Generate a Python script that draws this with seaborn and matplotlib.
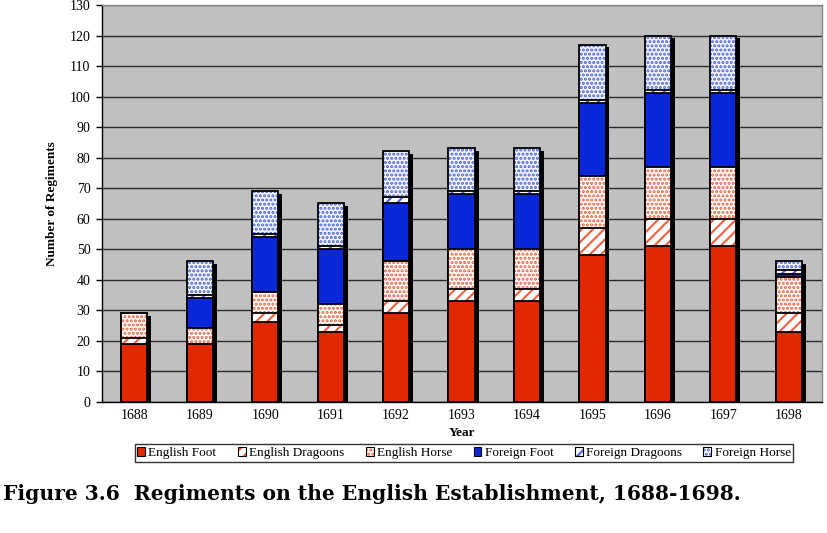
import numpy as np
import pandas as pd
import matplotlib
matplotlib.use("Agg")
import matplotlib.pyplot as plt
from matplotlib.patches import Patch
from matplotlib.legend_handler import HandlerTuple
import seaborn as sns

# ---------------- data ----------------
years = ["1688", "1689", "1690", "1691", "1692", "1693", "1694", "1695", "1696", "1697", "1698"]
english_foot = [19, 19, 26, 23, 29, 33, 33, 48, 51, 51, 23]
english_dragoons = [2, 0, 3, 2, 4, 4, 4, 9, 9, 9, 6]
english_horse = [8, 5, 7, 7, 13, 13, 13, 17, 17, 17, 12]
foreign_foot = [0, 10, 18, 18, 19, 18, 18, 24, 24, 24, 1]
foreign_dragoons = [0, 1, 1, 1, 2, 1, 1, 1, 1, 1, 1]
foreign_horse = [0, 11, 14, 14, 15, 14, 14, 18, 18, 18, 3]
series_names = ["English Foot", "English Dragoons", "English Horse",
                "Foreign Foot", "Foreign Dragoons", "Foreign Horse"]
y_ticks = list(range(0, 131, 10))

RED = "#E22800"
BLUE = "#0A28D8"
PINK = "#F0603F"
LBLUE = "#4A62E0"
# (face, pattern colour, hatch)
styles = [
    (RED, RED, None),
    ("white", PINK, "///"),
    ("white", PINK, "...."),
    (BLUE, BLUE, None),
    ("white", LBLUE, "///"),
    ("#F4F6FF", LBLUE, "...."),
]

sns.set_theme(style="white")
plt.rcParams["font.family"] = ["Liberation Serif", "DejaVu Serif"]
plt.rcParams["hatch.linewidth"] = 1.5
plt.rcParams["text.color"] = "black"
plt.rcParams["xtick.color"] = "black"
plt.rcParams["ytick.color"] = "black"
plt.rcParams["axes.labelcolor"] = "black"

df = pd.DataFrame({
    "Year": years,
    series_names[0]: english_foot,
    series_names[1]: english_dragoons,
    series_names[2]: english_horse,
    series_names[3]: foreign_foot,
    series_names[4]: foreign_dragoons,
    series_names[5]: foreign_horse,
})
cum = df[series_names].cumsum(axis=1)
total = cum[series_names[-1]].to_numpy()

L, R, B, T = 101.5, 821.5, 401.7, 5.0
fig = plt.figure(figsize=(8.27, 5.33), dpi=100)
ax = fig.add_axes([L / 827, 1 - B / 533, (R - L) / 827, (B - T) / 533])
ax.set_facecolor("#C0C0C0")

W = 0.40
# shadow bars
xpos = np.arange(len(years))
ax.bar(xpos + 0.06, np.maximum(total - 0.8, 0), width=W, color="black",
       linewidth=0, zorder=1.5)

# stacked layers, drawn from the top layer down (cumulative heights)
for k in range(len(series_names) - 1, -1, -1):
    face, pcol, hatch = styles[k]
    vals = cum[series_names[k]]
    sns.barplot(x=df["Year"], y=vals, order=years, color=face, saturation=1,
                width=W, edgecolor=pcol, linewidth=0, hatch=hatch, ax=ax,
                zorder=2, errorbar=None)
    sns.barplot(x=df["Year"], y=vals, order=years, color="black", fill=False,
                width=W, linewidth=1.3, ax=ax, zorder=2, errorbar=None)

ax.set_xlim(-0.5, len(years) - 0.5)
ax.set_ylim(0, 130)
ax.set_yticks(y_ticks)
ax.set_yticklabels([str(t) for t in y_ticks], fontsize=10)
ax.yaxis.grid(True, color="#2a2a2a", linewidth=1.0)
ax.set_axisbelow(True)
ax.set_xticks(range(len(years)))
ax.set_xticklabels(years, fontsize=10)
ax.set_xticks(np.arange(-0.5, len(years)), minor=True)
ax.tick_params(axis="x", which="major", length=0, pad=5)
ax.tick_params(axis="x", which="minor", length=4, width=1, color="black", direction="out")
ax.tick_params(axis="y", length=4, width=1, color="black", direction="out", pad=4)
ax.tick_params(axis="both", bottom=True, left=True)

for s in ["left", "bottom"]:
    ax.spines[s].set_color("black")
    ax.spines[s].set_linewidth(1.0)
for s in ["top", "right"]:
    ax.spines[s].set_color("#8a8a8a")
    ax.spines[s].set_linewidth(1.0)

ax.set_xlabel("Year", fontsize=9.5, fontweight="bold", labelpad=4)
ax.set_ylabel("Number of Regiments", fontsize=9.5, fontweight="bold")
ax.yaxis.set_label_coords((58 - L) / (R - L), 0.5)

# legend
handles = []
for face, pcol, hatch in styles:
    if hatch is None:
        handles.append(Patch(facecolor=face, edgecolor="black", linewidth=0.8))
    else:
        handles.append((Patch(facecolor="white", edgecolor=pcol, hatch=hatch, linewidth=0),
                        Patch(facecolor="none", edgecolor="black", linewidth=0.8)))
leg = fig.legend(handles, series_names, ncol=6, loc="center",
                 bbox_to_anchor=(128 / 827, 1 - 462 / 533, 672 / 827, 18 / 533),
                 mode="expand", fontsize=9.5, frameon=True, fancybox=False,
                 handlelength=0.6, handleheight=0.6, handletextpad=0.25,
                 borderpad=0.2, columnspacing=1.0,
                 handler_map={tuple: HandlerTuple(ndivide=1, pad=0)})
leg.get_frame().set_edgecolor("black")
leg.get_frame().set_linewidth(1.0)

fig.text(3 / 827, 1 - 494 / 533, "Figure 3.6  Regiments on the English Establishment, 1688-1698.",
         fontsize=14.6, fontweight="bold", ha="left", va="center", color="black",
         family=["DejaVu Serif"])

fig.savefig("out.png", dpi=100)
